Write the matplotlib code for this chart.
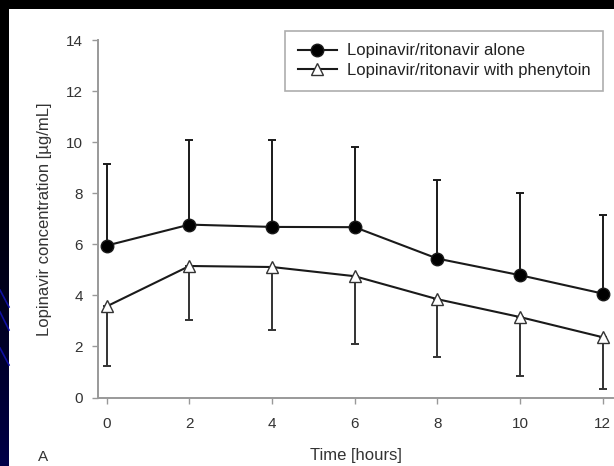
import numpy as np
import matplotlib
matplotlib.use("Agg")
import matplotlib.pyplot as plt
from matplotlib.patches import Rectangle

plt.rcParams['font.family'] = ['Liberation Sans', 'DejaVu Sans']

# data
hours = [0, 2, 4, 6, 8, 10, 12]
alone_mean = [5.95, 6.77, 6.68, 6.67, 5.44, 4.79, 4.07]
alone_upper = [9.15, 10.1, 10.1, 9.82, 8.51, 7.99, 7.16]
phen_mean = [3.57, 5.15, 5.11, 4.75, 3.85, 3.15, 2.36]
phen_lower = [1.22, 3.02, 2.65, 2.1, 1.58, 0.84, 0.35]

label_alone = "Lopinavir/ritonavir alone"
label_phen = "Lopinavir/ritonavir with phenytoin"
xlabel = "Time [hours]"
ylabel = "Lopinavir concentration [µg/mL]"
xticks = [0, 2, 4, 6, 8, 10, 12]
yticks = [0, 2, 4, 6, 8, 10, 12, 14]

W, H = 614, 466
fig = plt.figure(figsize=(W / 100, H / 100), dpi=100)
fig.patch.set_facecolor("black")

# slide background: dark gradient + white panel
bg = fig.add_axes([0, 0, 1, 1])
bg.set_xlim(0, W)
bg.set_ylim(H, 0)
grad = np.linspace(0, 1, 200).reshape(-1, 1) ** 2
bg.imshow(grad, extent=[0, W, H, 0], aspect="auto",
          cmap=matplotlib.colors.LinearSegmentedColormap.from_list("g", ["#000000", "#000048"]))
for y0, y1 in [(290, 307), (312, 330), (348, 365)]:
    bg.plot([0, 9], [y0, y1], color="#1010a0", lw=1.2)
bg.add_patch(Rectangle((8.5, 9), W, H, facecolor="white", edgecolor="none"))
bg.axis("off")

ax = fig.add_axes([98.5 / W, 1 - 397.5 / H, (613 - 98.5) / W, (397.5 - 40) / H])
ax.set_facecolor("none")

a_m = np.array(alone_mean)
p_m = np.array(phen_mean)
up = np.array(alone_upper) - a_m
lo = p_m - np.array(phen_lower)

ax.errorbar(hours, a_m, yerr=[np.zeros_like(up), up], fmt="none", ecolor="#1a1a1a",
            elinewidth=1.4, capsize=3, capthick=1.4, zorder=2)
ax.errorbar(hours, p_m, yerr=[lo, np.zeros_like(lo)], fmt="none", ecolor="#333333",
            elinewidth=1.4, capsize=3, capthick=1.4, zorder=2)

ax.plot(hours, a_m, "-o", color="#1a1a1a", lw=1.5, ms=9, mfc="black", mec="#1a1a1a",
        label=label_alone, zorder=3)
ax.plot(hours, p_m, "-^", color="#1a1a1a", lw=1.5, ms=9, mfc="white", mec="#333333",
        mew=1.0, label=label_phen, zorder=3)

ax.set_xlim(-0.2, 12.25)
ax.set_ylim(0, 14)
ax.set_xticks(xticks)
ax.set_yticks(yticks)
for s in ["top", "right"]:
    ax.spines[s].set_visible(False)
for s in ["left", "bottom"]:
    ax.spines[s].set_color("#999999")
    ax.spines[s].set_linewidth(1.4)
ax.tick_params(colors="#999999", labelcolor="#333333", labelsize=11, length=4, width=1.0)
ax.tick_params(axis="x", pad=10)
ax.tick_params(axis="y", pad=7)
ax.set_xlabel(xlabel, fontsize=12, color="#333333", labelpad=12)
ax.set_ylabel(ylabel, fontsize=12, color="#333333", labelpad=10)

leg = fig.legend(loc="upper right", bbox_to_anchor=(603 / W, 1 - 31 / H), fontsize=12,
                 frameon=True, fancybox=False, handlelength=2.35, handletextpad=0.6,
                 labelspacing=0.27, borderpad=0.75, borderaxespad=0)
leg.get_frame().set_edgecolor("#999999")
leg.get_frame().set_linewidth(1.2)
for t in leg.get_texts():
    t.set_color("#222222")

fig.text(43 / W, 1 - 457 / H, "A", fontsize=11, color="#333333", ha="center", va="center")

fig.savefig("out.png", dpi=100, facecolor=fig.get_facecolor())
